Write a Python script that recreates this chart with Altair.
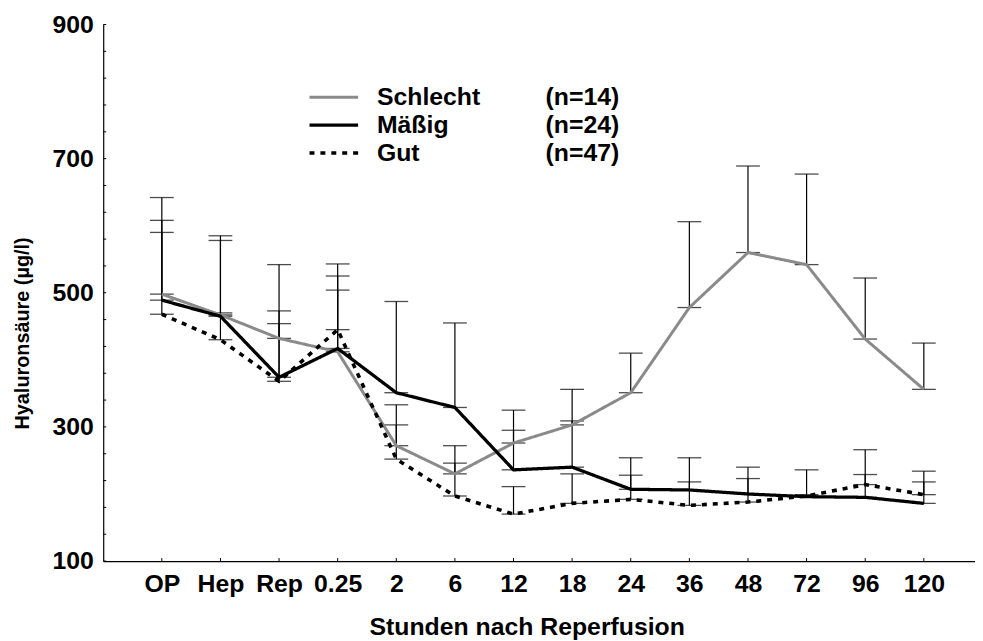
import altair as alt
import pandas as pd

categories = ["OP", "Hep", "Rep", "0.25", "2", "6", "12", "18", "24", "36", "48", "72", "96", "120"]
series = ["Schlecht", "Mäßig", "Gut"]
n_labels = ["(n=14)", "(n=24)", "(n=47)"]

schlecht_mean = [498, 467, 432, 412, 272, 230, 276, 303, 351, 478, 560, 542, 431, 356]
schlecht_top = [642, 585, 542, 543, 333, 272, 325, 356, 410, 606, 689, 677, 522, 425]
maessig_mean = [489, 465, 374, 417, 351, 329, 236, 240, 207, 206, 200, 196, 195, 186]
maessig_top = [608, 578, 473, 525, 487, 455, 295, 309, 254, 254, 240, 236, 229, 218]
gut_mean = [468, 430, 368, 445, 252, 197, 170, 186, 192, 183, 188, 197, 214, 199]
gut_top = [590, 470, 454, 504, 303, 246, 211, 230, 228, 218, 223, 199, 266, 234]

y_label_values = [100, 300, 500, 700, 900]
y_tick_values = list(range(100, 901, 40))

rows = []
for name, means, tops in [("Schlecht", schlecht_mean, schlecht_top),
                          ("Mäßig", maessig_mean, maessig_top),
                          ("Gut", gut_mean, gut_top)]:
    for c, m, t in zip(categories, means, tops):
        rows.append({"cat": c, "series": name, "mean": m, "top": t})
df = pd.DataFrame(rows)
cat_df = pd.DataFrame({"cat": categories})
ytick_df = pd.DataFrame({"v": y_tick_values})
legend_df = pd.DataFrame({"series": series, "n": n_labels})

FONT = "Liberation Sans"
W, H = 854, 541

x_enc = alt.X("cat:N", sort=categories,
              scale=alt.Scale(type="point", domain=categories, range=[0, 886.5], padding=1),
              axis=alt.Axis(title="Stunden nach Reperfusion", labelAngle=0,
                            labelFont=FONT, labelFontSize=25, labelFontWeight="bold",
                            labelColor="black", labelBaseline="alphabetic", labelPadding=31,
                            ticks=False, domainColor="black", domainWidth=1.2,
                            titleFont=FONT, titleFontSize=25, titleFontWeight="bold",
                            titleColor="black", titleX=427, titleY=74,
                            titleBaseline="alphabetic", grid=False))

def y_enc(field):
    return alt.Y(field, type="quantitative",
                 scale=alt.Scale(domain=[100, 900], nice=False, zero=False),
                 axis=alt.Axis(title="Hyaluronsäure (µg/l)", values=y_label_values,
                               labelFont=FONT, labelFontSize=25, labelFontWeight="bold",
                               labelColor="black", labelPadding=10, ticks=False,
                               domainColor="black", domainWidth=1.2, grid=False,
                               titleFont=FONT, titleFontSize=20, titleFontWeight="bold",
                               titleColor="black", titleAngle=270, titleX=-75, titleY=311,
                               titleBaseline="alphabetic"))

color_scale = alt.Scale(domain=series, range=["#8a8a8a", "#000000", "#000000"])
dash_scale = alt.Scale(domain=series, range=[[1, 0], [1, 0], [5, 6]])
width_scale = alt.Scale(domain=series, range=[3, 3.6, 3.6])

base = alt.Chart(df)

err_rule = base.mark_rule(color="black", strokeWidth=1.2).encode(
    x=x_enc, y=y_enc("mean"), y2="top")
cap_low = base.mark_tick(color="black", size=24, thickness=1.3).encode(
    x=x_enc, y=y_enc("mean"))
cap_high = base.mark_tick(color="black", size=24, thickness=1.3).encode(
    x=x_enc, y=y_enc("top"))

lines = base.mark_line(strokeCap="butt").encode(
    x=x_enc, y=y_enc("mean"),
    color=alt.Color("series:N", scale=color_scale, legend=None),
    strokeDash=alt.StrokeDash("series:N", scale=dash_scale, legend=None),
    strokeWidth=alt.StrokeWidth("series:N", scale=width_scale, legend=None),
    detail="series:N",
    order=alt.Order("series:N"))

xticks = alt.Chart(cat_df).mark_rule(color="black", strokeWidth=1).encode(
    x=x_enc, y=alt.value(H), y2=alt.value(H - 3))
yticks = alt.Chart(ytick_df).mark_rule(color="black", strokeWidth=1).encode(
    y=y_enc("v"), x=alt.value(0), x2=alt.value(3))

main = alt.layer(err_rule, cap_low, cap_high, lines, xticks, yticks)

leg_y = alt.Y("series:N", sort=series,
              scale=alt.Scale(type="point", domain=series, range=[73.3, 129.5], padding=0),
              axis=None)
leg_lines = alt.Chart(legend_df).mark_rule(strokeCap="butt").encode(
    x=alt.value(208), x2=alt.value(257), y=leg_y,
    color=alt.Color("series:N", scale=color_scale, legend=None),
    strokeDash=alt.StrokeDash("series:N", scale=dash_scale, legend=None),
    strokeWidth=alt.StrokeWidth("series:N", scale=width_scale, legend=None))
leg_text = alt.Chart(legend_df).mark_text(
    align="left", baseline="middle", font=FONT, fontSize=25, fontWeight="bold",
    color="black").encode(x=alt.value(276), y=leg_y, text="series:N")
leg_n = alt.Chart(legend_df).mark_text(
    align="left", baseline="middle", font=FONT, fontSize=25, fontWeight="bold",
    color="black").encode(x=alt.value(446), y=leg_y, text="n:N")
legend = alt.layer(leg_lines, leg_text, leg_n)

chart = alt.layer(main, legend).resolve_scale(y="independent").properties(
    width=W, height=H,
    autosize=alt.AutoSizeParams(type="none"),
    padding={"left": 96, "top": 14, "right": 25, "bottom": 82},
    background="white",
).configure_view(stroke=None)

chart.save("out.html", embed_options={"renderer": "svg", "actions": False})
